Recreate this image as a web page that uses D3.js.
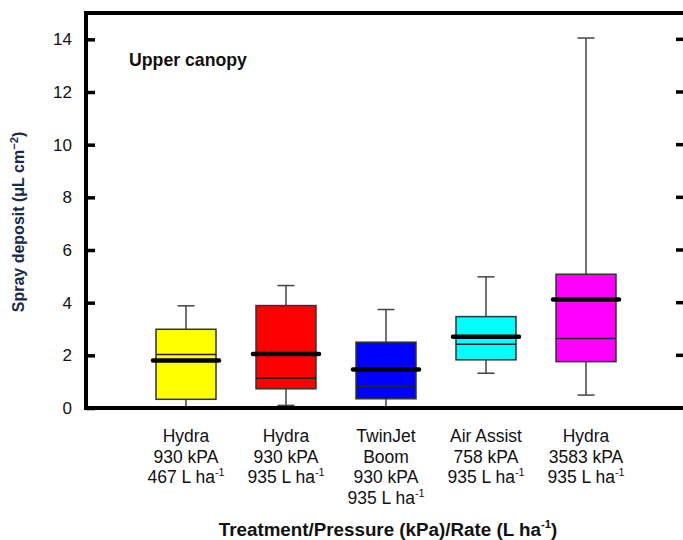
<!DOCTYPE html>
<html><head><meta charset="utf-8">
<script src="https://cdn.jsdelivr.net/npm/d3@7"></script>
<style>body{margin:0;background:#fff}svg{display:block}text{font-family:"Liberation Sans",Arial,sans-serif}</style>
</head><body><svg id="c" width="683" height="540"></svg>
<script>
const treatments = ["Hydra 930 kPA 467","Hydra 930 kPA 935","TwinJet Boom 930 kPA 935","Air Assist 758 kPA 935","Hydra 3583 kPA 935"];
const labelLines = [
  ["Hydra","930 kPA","467 L ha|-1"],
  ["Hydra","930 kPA","935 L ha|-1"],
  ["TwinJet","Boom","930 kPA","935 L ha|-1"],
  ["Air Assist","758 kPA","935 L ha|-1"],
  ["Hydra","3583 kPA","935 L ha|-1"]
];
const colors = ["#ffff00","#ff0000","#0000ff","#00ffff","#ff00ff"];
const whiskerLow  = [0.00, 0.10, 0.03, 1.32, 0.49];
const q1          = [0.33, 0.73, 0.35, 1.83, 1.76];
const median      = [2.03, 1.13, 0.83, 2.42, 2.64];
const mean        = [1.80, 2.05, 1.46, 2.71, 4.12];
const q3          = [2.99, 3.89, 2.50, 3.47, 5.08];
const whiskerHigh = [3.88, 4.65, 3.74, 4.98, 14.05];
const yTicks = [0,2,4,6,8,10,12,14];

const svg = d3.select("#c");
const L = 86, R = 686, T = 13, B = 408;
const x = d3.scaleLinear().domain([0, treatments.length + 1]).range([L, R]);
const y = d3.scaleLinear().domain([0, 15]).range([B, T]);
const bw = 60, cw = 17;

const g = svg.append("g");
treatments.forEach((t, i) => {
  const cx = x(i + 1);
  g.append("line").attr("x1", cx).attr("x2", cx).attr("y1", y(q3[i])).attr("y2", y(whiskerHigh[i]))
    .attr("stroke", "#444").attr("stroke-width", 1.5);
  g.append("line").attr("x1", cx).attr("x2", cx).attr("y1", y(q1[i])).attr("y2", y(whiskerLow[i]))
    .attr("stroke", "#444").attr("stroke-width", 1.5);
  g.append("line").attr("x1", cx - cw/2).attr("x2", cx + cw/2).attr("y1", y(whiskerHigh[i])).attr("y2", y(whiskerHigh[i]))
    .attr("stroke", "#444").attr("stroke-width", 1.5);
  g.append("line").attr("x1", cx - cw/2).attr("x2", cx + cw/2).attr("y1", y(whiskerLow[i])).attr("y2", y(whiskerLow[i]))
    .attr("stroke", "#444").attr("stroke-width", 1.5);
  g.append("rect").attr("x", cx - bw/2).attr("y", y(q3[i])).attr("width", bw).attr("height", y(q1[i]) - y(q3[i]))
    .attr("fill", colors[i]).attr("stroke", "#333").attr("stroke-width", 1.5);
  g.append("line").attr("x1", cx - bw/2).attr("x2", cx + bw/2).attr("y1", y(median[i])).attr("y2", y(median[i]))
    .attr("stroke", "#222").attr("stroke-width", 1.5);
  g.append("line").attr("x1", cx - bw/2 - 3).attr("x2", cx + bw/2 + 3).attr("y1", y(mean[i])).attr("y2", y(mean[i]))
    .attr("stroke", "#000").attr("stroke-width", 4.5).attr("stroke-linecap", "round");
});

yTicks.forEach(v => {
  svg.append("line").attr("x1", R - 10).attr("x2", R).attr("y1", y(v)).attr("y2", y(v))
    .attr("stroke", "#000").attr("stroke-width", 3.5);
});
const ax = svg.append("g").attr("transform", `translate(${L},0)`)
  .call(d3.axisLeft(y).tickValues(yTicks).tickSize(-9).tickPadding(14).tickFormat(d3.format("d")));
ax.select(".domain").remove();
ax.selectAll(".tick line").attr("stroke", "#000").attr("stroke-width", 3.5);
ax.selectAll(".tick text").attr("font-size", 17).attr("fill", "#111").attr("font-family", "Liberation Sans, Arial, sans-serif");

svg.append("line").attr("x1", L - 2).attr("x2", R + 2).attr("y1", T).attr("y2", T).attr("stroke", "#000").attr("stroke-width", 4);
svg.append("line").attr("x1", L - 2).attr("x2", R + 2).attr("y1", B).attr("y2", B).attr("stroke", "#000").attr("stroke-width", 4);
svg.append("line").attr("x1", L).attr("x2", L).attr("y1", T).attr("y2", B).attr("stroke", "#000").attr("stroke-width", 4);
svg.append("line").attr("x1", R).attr("x2", R).attr("y1", T).attr("y2", B).attr("stroke", "#000").attr("stroke-width", 4);

function addText(sel, s) {
  const parts = s.split("|");
  sel.append("tspan").text(parts[0]);
  if (parts[1]) sel.append("tspan").attr("font-size", "0.62em").attr("dy", -7).text(parts[1]);
}
labelLines.forEach((lines, i) => {
  lines.forEach((ln, j) => {
    const t = svg.append("text").attr("x", x(i + 1)).attr("y", 442 + j * 20.6)
      .attr("text-anchor", "middle").attr("font-size", 17.5).attr("fill", "#111");
    addText(t, ln);
  });
});

svg.append("text").attr("x", 129).attr("y", 66).attr("font-size", 17.7).attr("font-weight", "bold").attr("fill", "#111").text("Upper canopy");

const xt = svg.append("text").attr("x", 388).attr("y", 536).attr("text-anchor", "middle")
  .attr("font-size", 18.8).attr("font-weight", "bold").attr("fill", "#111");
xt.append("tspan").text("Treatment/Pressure (kPa)/Rate (L ha");
xt.append("tspan").attr("font-size", "0.6em").attr("dy", -8).text("-1");
xt.append("tspan").attr("dy", 8).text(")");

const yt = svg.append("text").attr("transform", "translate(24,222) rotate(-90)").attr("text-anchor", "middle")
  .attr("font-size", 16).attr("font-weight", "bold").attr("fill", "#1b2a48");
yt.append("tspan").text("Spray deposit (\u03bcL cm");
yt.append("tspan").attr("font-size", "0.7em").attr("dy", -6).text("\u22122");
yt.append("tspan").attr("dy", 6).text(")");
</script></body></html>
